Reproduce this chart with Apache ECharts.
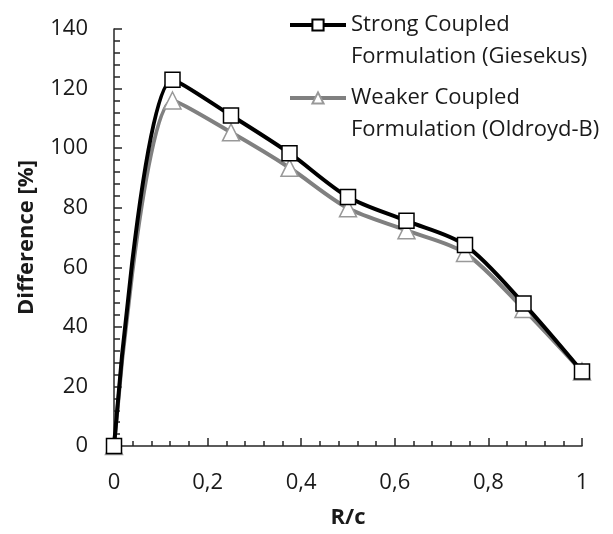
<!DOCTYPE html>
<html><head><meta charset="utf-8">
<script src="https://cdn.jsdelivr.net/npm/echarts@6/dist/echarts.min.js"></script>
<style>html,body{margin:0;padding:0;background:#fff}#c{width:613px;height:534px}</style>
</head><body><div id="c"></div>
<script>
const xValues = [0, 0.125, 0.25, 0.375, 0.5, 0.625, 0.75, 0.875, 1];
const strongValues = [0, 123, 111, 98.3, 83.6, 75.6, 67.5, 47.8, 25];
const weakerValues = [0, 116, 105.3, 93.4, 79.8, 72.4, 64.8, 46, 25];
const seriesNames = ['Strong Coupled\nFormulation (Giesekus)', 'Weaker Coupled\nFormulation (Oldroyd-B)'];
const FONT = 'Open Sans';
const TXT = '#1a1a1a';
const AX = '#262626';
const chart = echarts.init(document.getElementById('c'));
const pair = (ys) => xValues.map((x, i) => [x, ys[i]]);
const legendBase = {
  left: 288, orient: 'vertical', padding: 0,
  itemWidth: 56, itemHeight: 14, itemGap: 0,
  formatter: n => '\n' + n,
  lineStyle: {width: 4},
  textStyle: {fontFamily: FONT, fontSize: 22, color: TXT, lineHeight: 32}
};
chart.setOption({
  animation: false,
  textStyle: {fontFamily: FONT},
  grid: {left: 114, right: 31, top: 29, bottom: 86},
  legend: [
    Object.assign({}, legendBase, {top: -23, data: [{name: seriesNames[0]}]}),
    Object.assign({}, legendBase, {top: 50, data: [{name: seriesNames[1]}]})
  ],
  xAxis: {
    type: 'value', min: 0, max: 1, interval: 0.2,
    name: 'R/c', nameLocation: 'middle', nameGap: 61,
    nameTextStyle: {fontFamily: FONT, fontSize: 22, fontWeight: 'bold', color: TXT},
    axisLine: {show: true, lineStyle: {color: AX, width: 1.5}},
    axisTick: {show: true, inside: true, length: 8, lineStyle: {color: AX, width: 1.5}},
    minorTick: {show: true, splitNumber: 5, length: 5, lineStyle: {color: AX, width: 1.5}},
    splitLine: {show: false},
    axisLabel: {fontFamily: FONT, fontSize: 22, color: TXT, margin: 26,
      formatter: v => String(+v.toFixed(2)).replace('.', ',')}
  },
  yAxis: {
    type: 'value', min: 0, max: 140, interval: 20,
    name: 'Difference [%]', nameLocation: 'middle', nameGap: 76,
    nameTextStyle: {fontFamily: FONT, fontSize: 22, fontWeight: 'bold', color: TXT},
    axisLine: {show: true, lineStyle: {color: AX, width: 1.5}},
    axisTick: {show: true, inside: true, length: 8, lineStyle: {color: AX, width: 1.5}},
    minorTick: {show: true, splitNumber: 5, length: 6, lineStyle: {color: AX, width: 1.5}},
    splitLine: {show: false},
    axisLabel: {fontFamily: FONT, fontSize: 22, color: TXT, margin: 26}
  },
  series: [
    {
      name: seriesNames[0], type: 'line', data: pair(strongValues), smooth: 0.3, z: 3,
      lineStyle: {color: '#000', width: 4},
      symbol: 'rect', symbolSize: 15,
      itemStyle: {color: '#fff', borderColor: '#000', borderWidth: 1.5}
    },
    {
      name: seriesNames[1], type: 'line', data: pair(weakerValues), smooth: 0.3, z: 2,
      lineStyle: {color: '#808080', width: 4},
      symbol: 'triangle', symbolSize: 17,
      itemStyle: {color: '#fff', borderColor: '#999', borderWidth: 1.5}
    }
  ]
});
</script></body></html>
